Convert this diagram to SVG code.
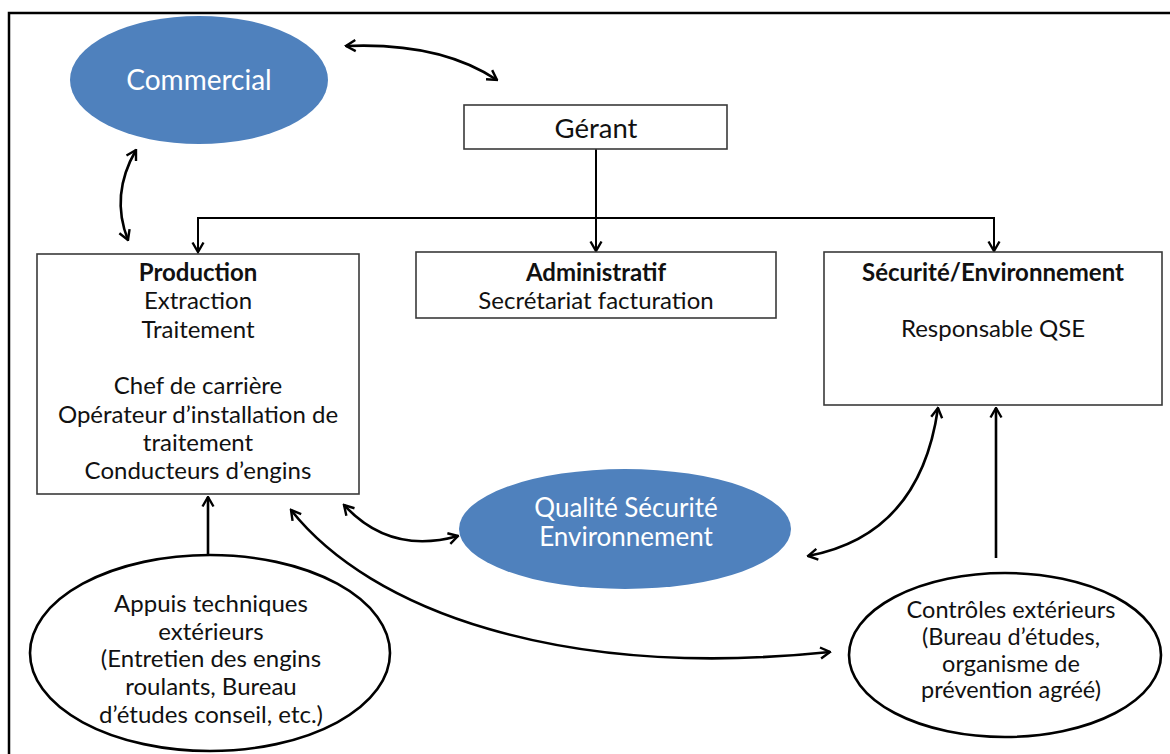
<svg xmlns="http://www.w3.org/2000/svg" width="1170" height="754" viewBox="0 0 1170 754">
<defs>
<style>
.box{fill:#fff;stroke:#3a3a3a;stroke-width:1.6}
.blue{fill:#4F81BD;stroke:none}
.oval{fill:#fff;stroke:#000;stroke-width:2.6}
.t{font-family:Lato,"Open Sans","Liberation Sans",sans-serif;fill:#111;text-anchor:middle}
.w{font-family:Lato,"Open Sans","Liberation Sans",sans-serif;fill:#fff;text-anchor:middle}
.b{font-weight:bold}
.ln{fill:none;stroke:#000;stroke-width:2}
.cv{fill:none;stroke:#000;stroke-width:2.6}
</style>
<marker id="ah" viewBox="0 0 14 14" refX="12.5" refY="7" markerWidth="14" markerHeight="14" markerUnits="userSpaceOnUse" orient="auto-start-reverse">
<path d="M3,1.5 L12.5,7 L3,12.5" fill="none" stroke="#000" stroke-width="2.4"/>
</marker>
</defs>
<rect width="1170" height="754" fill="#fff"/>
<rect x="9" y="13" width="1175" height="760" fill="none" stroke="#000" stroke-width="2.5"/>

<g id="connectors">
<path class="ln" d="M596,149 L596,251" marker-end="url(#ah)"/>
<path class="ln" d="M198,252 L198,218 L994,218 L994,251" marker-start="url(#ah)" marker-end="url(#ah)"/>
<path class="cv" d="M346,46 Q440,42 497,80" marker-start="url(#ah)" marker-end="url(#ah)"/>
<path class="cv" d="M136,150 Q110,195 128,240" marker-start="url(#ah)" marker-end="url(#ah)"/>
<path class="cv" d="M344,505 Q390,555 458,536" marker-start="url(#ah)" marker-end="url(#ah)"/>
<path class="cv" d="M291,510 C370,610 560,680 830,652" marker-start="url(#ah)" marker-end="url(#ah)"/>
<path class="cv" d="M938,408 Q920,535 808,556" marker-start="url(#ah)" marker-end="url(#ah)"/>
<path class="cv" d="M208,556 L208,497" marker-end="url(#ah)"/>
<path class="cv" d="M996,558 L996,408" marker-end="url(#ah)"/>
</g>

<g id="commercial">
<ellipse class="blue" cx="199" cy="80" rx="129" ry="64"/>
<text class="w" x="199" y="90" font-size="28">Commercial</text>
</g>

<g id="gerant">
<rect class="box" x="464" y="105" width="263" height="44"/>
<text class="t" x="596" y="138" font-size="27.5">Gérant</text>
</g>

<g id="production">
<rect class="box" x="37" y="254" width="322" height="240"/>
<text class="t" x="198" y="281" font-size="24"><tspan class="b">Production</tspan><tspan x="198" dy="28.3">Extraction</tspan><tspan x="198" dy="28.3">Traitement</tspan><tspan x="198" dy="56.6">Chef de carrière</tspan><tspan x="198" dy="28.3">Opérateur d’installation de</tspan><tspan x="198" dy="28.3">traitement</tspan><tspan x="198" dy="28.3">Conducteurs d’engins</tspan></text>
</g>

<g id="administratif">
<rect class="box" x="416" y="252" width="360" height="66"/>
<text class="t" x="596" y="281" font-size="24"><tspan class="b">Administratif</tspan><tspan x="596" dy="28.3">Secrétariat facturation</tspan></text>
</g>

<g id="securite">
<rect class="box" x="824" y="252" width="338" height="153"/>
<text class="t" x="993" y="281" font-size="24"><tspan class="b">Sécurité/Environnement</tspan><tspan x="993" dy="56">Responsable QSE</tspan></text>
</g>

<g id="qse">
<ellipse class="blue" cx="625" cy="529" rx="166" ry="60"/>
<text class="w" x="626" y="517" font-size="26"><tspan>Qualité Sécurité</tspan><tspan x="626" dy="29">Environnement</tspan></text>
</g>

<g id="appuis">
<ellipse class="oval" cx="210" cy="653" rx="180" ry="98"/>
<text class="t" x="211" y="612" font-size="24"><tspan>Appuis techniques</tspan><tspan x="211" dy="27.7">extérieurs</tspan><tspan x="211" dy="27.7">(Entretien des engins</tspan><tspan x="211" dy="27.7">roulants, Bureau</tspan><tspan x="211" dy="27.7">d’études conseil, etc.)</tspan></text>
</g>

<g id="controles">
<ellipse class="oval" cx="1005" cy="655" rx="156" ry="82"/>
<text class="t" x="1011" y="618" font-size="23.5"><tspan>Contrôles extérieurs</tspan><tspan x="1011" dy="26.8">(Bureau d’études,</tspan><tspan x="1011" dy="26.8">organisme de</tspan><tspan x="1011" dy="26.8">prévention agréé)</tspan></text>
</g>
</svg>
